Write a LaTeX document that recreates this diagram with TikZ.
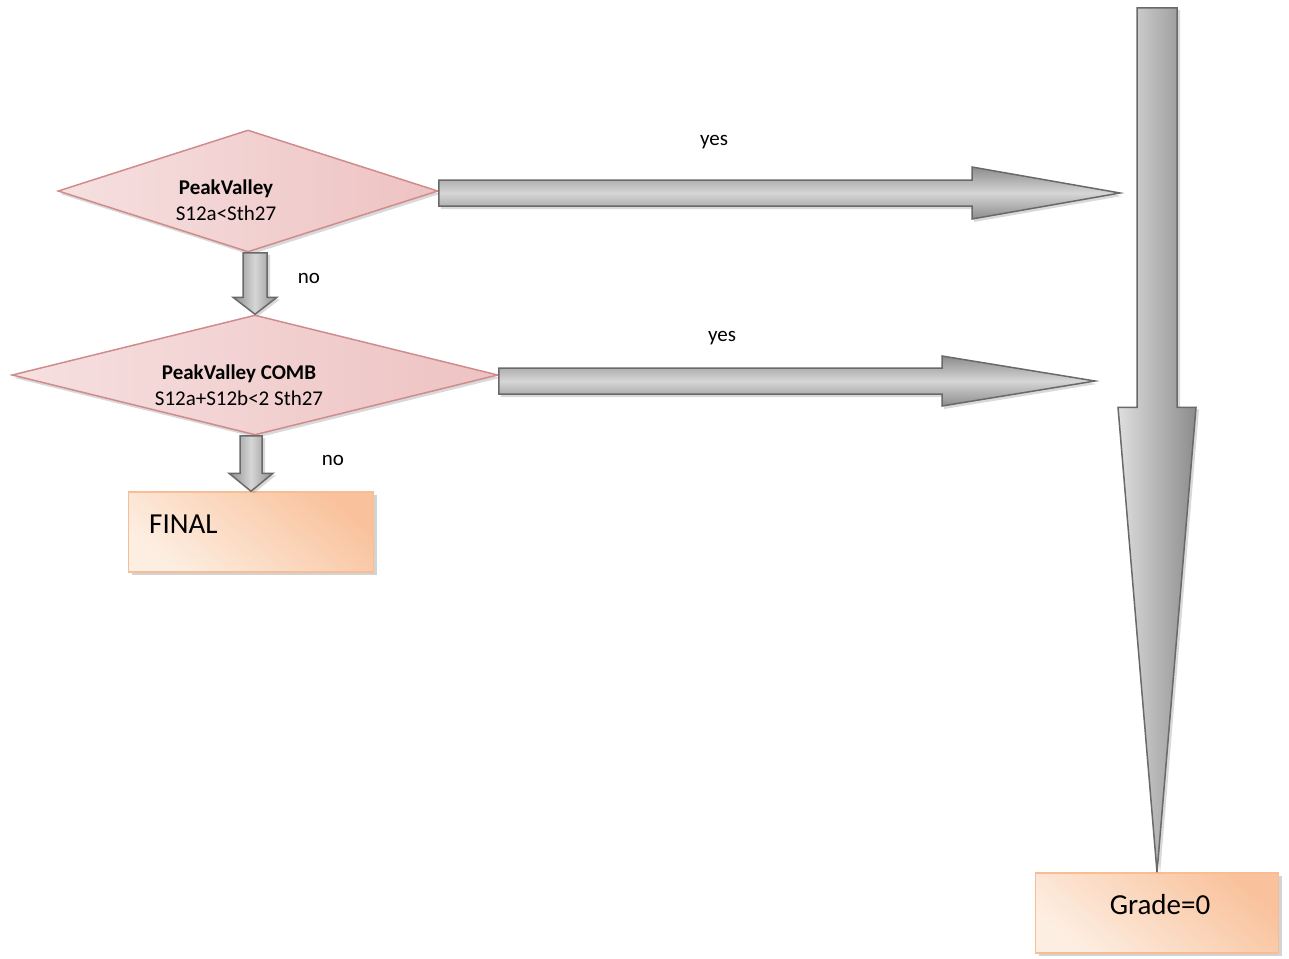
\documentclass[tikz,border=0pt]{standalone}
\usepackage{fontspec}
\setmainfont{Carlito}
\usetikzlibrary{shapes.geometric,shadows,calc}

\definecolor{pinkedge}{RGB}{208,140,140}
\definecolor{pinklight}{RGB}{246,224,224}
\definecolor{pinkdark}{RGB}{238,194,194}
\definecolor{orangeedge}{RGB}{247,190,150}
\definecolor{orangedark}{RGB}{249,194,156}
\definecolor{orangelight}{RGB}{253,238,226}
\definecolor{greyedge}{RGB}{105,105,105}
\definecolor{greydark}{RGB}{140,140,140}
\definecolor{greylight}{RGB}{214,214,214}

\tikzset{
  decision/.style={diamond, aspect=3, inner sep=0pt, draw=pinkedge, line width=1.5pt,
    left color=pinklight, right color=pinkdark,
    drop shadow={shadow xshift=2pt, shadow yshift=-3pt, opacity=0.3}},
  endbox/.style={rectangle, draw=orangeedge, line width=1.5pt,
    top color=orangedark, bottom color=orangelight, shading angle=-40,
    drop shadow={shadow xshift=3pt, shadow yshift=-3pt, opacity=0.35}},
  condtext/.style={inner sep=0pt, align=center, font=\fontsize{21}{26}\selectfont},
  boxtext/.style={inner sep=0pt, font=\fontsize{29}{34}\selectfont},
  answer/.style={inner sep=0pt, font=\fontsize{21}{25}\selectfont},
  hflow/.style={draw=greyedge, line width=1.5pt,
    top color=greydark, bottom color=greydark, middle color=greylight,
    drop shadow={shadow xshift=2pt, shadow yshift=-3pt, opacity=0.3}},
  vflow/.style={draw=greyedge, line width=1.5pt,
    left color=greydark, right color=greydark, middle color=greylight,
    drop shadow={shadow xshift=3pt, shadow yshift=-2pt, opacity=0.3}},
  bigflow/.style={draw=greyedge, line width=1.5pt,
    left color=greylight!80!white, right color=greydark,
    drop shadow={shadow xshift=3pt, shadow yshift=-2pt, opacity=0.3}},
}

\begin{document}
\begin{tikzpicture}[x=1pt, y=-1pt]
  \useasboundingbox (0,0) rectangle (1289,958);

  % tests
  \node[decision, minimum width=380pt, minimum height=122pt]
    (d1) at (248,191) {};
  \node[condtext] (d1text) at (226,200) {\textbf{PeakValley}\\S12a<Sth27};
  \node[decision, minimum width=486pt, minimum height=120pt]
    (d2) at (255,375) {};
  \node[condtext] (d2text) at (239,385) {\textbf{PeakValley COMB}\\S12a+S12b<2 Sth27};

  % results
  \node[endbox, minimum width=245pt, minimum height=80pt]
    (final) at (251,532) {};
  \node[boxtext, anchor=west] (finaltext) at (149,524) {FINAL};
  \node[endbox, minimum width=243pt, minimum height=80pt]
    (grade) at (1157,913) {};
  \node[boxtext] (gradetext) at (1160,905) {Grade=0};

  % free ends of the yes arrows
  \coordinate (t1) at (1120,193);
  \coordinate (s1) at (d1.east |- t1);
  \coordinate (t2) at (1095,381);
  \coordinate (s2) at (d2.east |- t2);
  \coordinate (top) at (1157,8);
  \coordinate (s3) at (d1.south -| d2.north);
  \coordinate (s4) at (d2.south -| final.north);

  % yes arrows
  \path[hflow] ($(s1)+(0,-13)$) -- ($(t1)+(-148,-13)$) -- ($(t1)+(-148,-26)$)
    -- (t1) -- ($(t1)+(-148,26)$) -- ($(t1)+(-148,13)$) -- ($(s1)+(0,13)$) -- cycle;
  \path[hflow] ($(s2)+(0,-13)$) -- ($(t2)+(-153,-13)$) -- ($(t2)+(-153,-25)$)
    -- (t2) -- ($(t2)+(-153,25)$) -- ($(t2)+(-153,13)$) -- ($(s2)+(0,13)$) -- cycle;
  \path[bigflow] ($(top)+(-20,0)$) -- ($(grade.north)+(-20,-465)$)
    -- ($(grade.north)+(-39,-465)$) -- (grade.north) -- ($(grade.north)+(39,-465)$)
    -- ($(grade.north)+(20,-465)$) -- ($(top)+(20,0)$) -- cycle;

  % no arrows
  \path[vflow] ($(s3)+(-12,0)$) -- ($(d2.north)+(-12,-17)$) -- ($(d2.north)+(-22,-17)$)
    -- (d2.north) -- ($(d2.north)+(22,-17)$) -- ($(d2.north)+(12,-17)$)
    -- ($(s3)+(12,0)$) -- cycle;
  \path[vflow] ($(s4)+(-11,0)$) -- ($(final.north)+(-11,-18)$) -- ($(final.north)+(-22,-18)$)
    -- (final.north) -- ($(final.north)+(22,-18)$) -- ($(final.north)+(11,-18)$)
    -- ($(s4)+(11,0)$) -- cycle;

  \node[answer] (yes1) at (714,142) {yes};
  \node[answer] (no1) at (309,278) {no};
  \node[answer] (yes2) at (722,338) {yes};
  \node[answer] (no2) at (333,460) {no};
\end{tikzpicture}
\end{document}
